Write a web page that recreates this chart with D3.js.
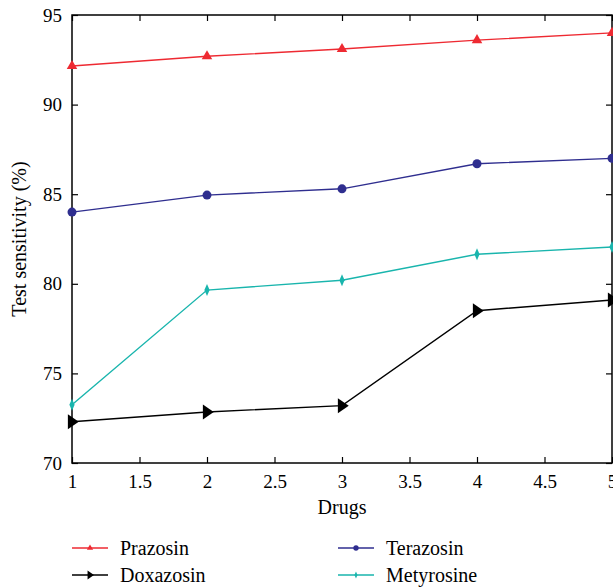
<!DOCTYPE html>
<html>
<head>
<meta charset="utf-8">
<script src="https://cdn.jsdelivr.net/npm/d3@7"></script>
<style>
  body { margin: 0; background: #fff; }
  svg, svg text { font-family: "Liberation Serif", "DejaVu Serif", serif; }
  svg { display: block; }
</style>
</head>
<body>
<div id="chart"></div>
<script>
// data
var drugs = [1, 2, 3, 4, 5];
var prazosin = [92.15, 92.7, 93.1, 93.6, 94.0];
var terazosin = [84.0, 84.95, 85.3, 86.7, 87.0];
var doxazosin = [72.3, 72.85, 73.2, 78.5, 79.1];
var metyrosine = [73.25, 79.65, 80.2, 81.65, 82.05];
var xTicks = [1, 1.5, 2, 2.5, 3, 3.5, 4, 4.5, 5];
var yTicks = [70, 75, 80, 85, 90, 95];

var series = [
  {name: "Prazosin", values: prazosin, color: "#ee2a32", marker: "tri"},
  {name: "Terazosin", values: terazosin, color: "#2f2e8f", marker: "circle"},
  {name: "Doxazosin", values: doxazosin, color: "#000000", marker: "right"},
  {name: "Metyrosine", values: metyrosine, color: "#19b5ad", marker: "diamond"}
];

var W = 613, H = 587;
var margin = {top: 15, right: 1, bottom: 124, left: 72};
var width = W - margin.left - margin.right,
    height = H - margin.top - margin.bottom;

var x = d3.scaleLinear().domain([1, 5]).range([0, width]);
var y = d3.scaleLinear().domain([70, 95]).range([height, 0]);

var svg = d3.select("#chart").append("svg")
    .attr("width", W)
    .attr("height", H);

var g = svg.append("g")
    .attr("transform", "translate(" + margin.left + "," + margin.top + ")");

// axes, ticks pointing inward
function styleAxis(sel) {
  sel.attr("font-family", null).attr("font-size", null);
  sel.select(".domain").remove();
  sel.selectAll("line").attr("stroke", "#000").attr("stroke-width", 1.2);
  sel.selectAll("text")
    .attr("fill", "#000")
    .style("font-family", "'Liberation Serif', 'DejaVu Serif', serif")
    .style("font-size", "19px");
}

g.append("g")
    .attr("transform", "translate(0," + height + ")")
    .call(d3.axisBottom(x).tickValues(xTicks).tickSize(-6).tickPadding(12)
      .tickFormat(d3.format("")))
    .call(styleAxis);

g.append("g")
    .call(d3.axisTop(x).tickValues(xTicks).tickSize(-6).tickFormat(""))
    .call(styleAxis);

g.append("g")
    .call(d3.axisLeft(y).tickValues(yTicks).tickSize(-6).tickPadding(10))
    .call(styleAxis);

g.append("g")
    .attr("transform", "translate(" + width + ",0)")
    .call(d3.axisRight(y).tickValues(yTicks).tickSize(-6).tickFormat(""))
    .call(styleAxis);

g.append("rect")
    .attr("width", width)
    .attr("height", height)
    .attr("fill", "none")
    .attr("stroke", "#000")
    .attr("stroke-width", 1.5);

// markers
function drawMarker(sel, type, color, scale) {
  scale = scale || 1;
  if (type === "tri") {
    sel.append("path").attr("d", d3.symbol().type(d3.symbolTriangle).size(48 * scale)())
      .attr("fill", color);
  } else if (type === "circle") {
    sel.append("circle").attr("r", 4.5 * Math.sqrt(scale)).attr("fill", color);
  } else if (type === "right") {
    var s = 7.5 * Math.sqrt(scale);
    sel.append("path").attr("d", "M" + (-s * 0.55) + "," + (-s) + "L" + (s * 0.9) + ",0L" + (-s * 0.55) + "," + s + "Z")
      .attr("fill", color);
  } else {
    var a = 2.6 * Math.sqrt(scale), b = 6 * Math.sqrt(scale);
    sel.append("path").attr("d", "M0," + (-b) + "L" + a + ",0L0," + b + "L" + (-a) + ",0Z")
      .attr("fill", color);
  }
}

var line = d3.line()
    .x(function(d, i) { return x(drugs[i]); })
    .y(function(d) { return y(d); });

series.forEach(function(s) {
  g.append("path")
      .datum(s.values)
      .attr("fill", "none")
      .attr("stroke", s.color)
      .attr("stroke-width", 1.4)
      .attr("d", line);

  g.selectAll(null)
      .data(s.values)
      .enter().append("g")
      .attr("transform", function(d, i) { return "translate(" + x(drugs[i]) + "," + y(d) + ")"; })
      .each(function() { drawMarker(d3.select(this), s.marker, s.color); });
});

// axis titles
svg.append("text")
    .attr("x", margin.left + width / 2)
    .attr("y", 514)
    .attr("text-anchor", "middle")
    .style("font-size", "20px")
    .text("Drugs");

svg.append("text")
    .attr("transform", "translate(26," + (margin.top + height / 2) + ") rotate(-90)")
    .attr("text-anchor", "middle")
    .style("font-size", "20px")
    .text("Test sensitivity (%)");

// legend
var legendPos = [
  {x: 72, y: 548}, {x: 338, y: 548},
  {x: 72, y: 575}, {x: 338, y: 575}
];
var legendOrder = [series[0], series[1], series[2], series[3]];

var keys = svg.selectAll(".key")
    .data(legendOrder)
    .enter().append("g")
    .attr("class", "key")
    .attr("transform", function(d, i) { return "translate(" + legendPos[i].x + "," + legendPos[i].y + ")"; });

keys.append("line")
    .attr("x1", 0).attr("x2", 36)
    .attr("stroke", function(d) { return d.color; })
    .attr("stroke-width", 1.4);

keys.each(function(d) {
  var m = d3.select(this).append("g").attr("transform", "translate(18,0)");
  drawMarker(m, d.marker, d.color, 0.35);
});

keys.append("text")
    .attr("x", 48)
    .attr("dy", "0.35em")
    .style("font-size", "20px")
    .text(function(d) { return d.name; });
</script>
</body>
</html>
